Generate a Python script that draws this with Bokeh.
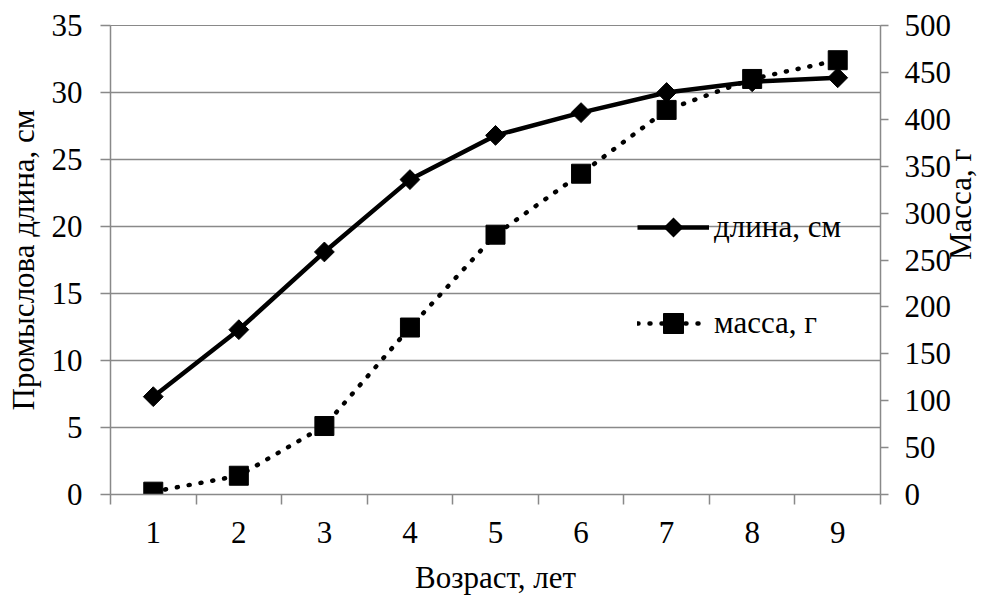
import math
from bokeh.plotting import figure
from bokeh.models import Range1d, LinearAxis, FixedTicker, Legend, LegendItem, PolyAnnotation
from bokeh.embed import file_html
from bokeh.resources import INLINE

# Age classes and growth measurements
ages = [1, 2, 3, 4, 5, 6, 7, 8, 9]
length_cm = [7.3, 12.3, 18.1, 23.5, 26.8, 28.5, 30.0, 30.8, 31.1]
mass_g = [3, 20, 73, 178, 277, 342, 410, 443, 463]

length_ticks = [0, 5, 10, 15, 20, 25, 30, 35]
mass_ticks = [0, 50, 100, 150, 200, 250, 300, 350, 400, 450, 500]

FONT = "Liberation Serif"
GRAY = "#898989"
FS = "31px"

p = figure(width=998, height=597, output_backend="svg", toolbar_location=None,
           x_range=Range1d(0.5, 9.5), y_range=Range1d(0, 35),
           min_border_left=110, min_border_right=117,
           min_border_top=25, min_border_bottom=102,
           x_axis_location=None, y_axis_location=None)
p.extra_y_ranges = {"mass": Range1d(0, 500)}
p.outline_line_color = GRAY
p.background_fill_color = "white"
p.border_fill_color = "white"

# Bottom axis: labels at class centres, tick marks on class boundaries
xaxis = LinearAxis(ticker=FixedTicker(ticks=ages, minor_ticks=[a + 0.5 for a in [0] + ages]),
                   axis_label="Возраст, лет")
xaxis.major_tick_out = 0
xaxis.major_tick_in = 0
xaxis.minor_tick_out = 10
xaxis.minor_tick_in = 0
xaxis.minor_tick_line_color = GRAY
xaxis.minor_tick_line_width = 1.5
p.add_layout(xaxis, "below")

yaxis = LinearAxis(ticker=FixedTicker(ticks=length_ticks, minor_ticks=[]),
                   axis_label="Промыслова длина, см")
yaxis.major_tick_out = 10
yaxis.major_tick_in = 0
yaxis.major_tick_line_color = GRAY
yaxis.major_tick_line_width = 1.5
p.add_layout(yaxis, "left")

# Right axis for mass; title reads bottom to top like the left one
raxis = LinearAxis(y_range_name="mass", ticker=FixedTicker(ticks=mass_ticks, minor_ticks=[]),
                   axis_label="Масса, г")
raxis.major_tick_out = 8
raxis.major_tick_in = 0
raxis.major_tick_line_color = GRAY
raxis.major_tick_line_width = 1.5
raxis.axis_label_orientation = math.pi / 2
p.add_layout(raxis, "right")

for ax in (xaxis, yaxis, raxis):
    ax.axis_line_color = GRAY
    ax.axis_line_width = 1.5
    ax.major_label_text_font = FONT
    ax.major_label_text_font_size = FS
    ax.major_label_text_color = "black"
    ax.axis_label_text_font = FONT
    ax.axis_label_text_font_size = FS
    ax.axis_label_text_font_style = "normal"
    ax.axis_label_text_color = "black"

xaxis.major_label_standoff = 17
xaxis.axis_label_standoff = 14
yaxis.major_label_standoff = 18
yaxis.axis_label_standoff = 8
raxis.major_label_standoff = 16
raxis.axis_label_standoff = 6

p.xgrid.visible = False
p.ygrid.ticker = FixedTicker(ticks=length_ticks, minor_ticks=[])
p.ygrid.grid_line_color = GRAY
p.ygrid.grid_line_width = 1.5

# Length series (left axis), diamonds drawn as rotated squares
l_line = p.line(ages, length_cm, line_color="black", line_width=4.5)
l_pts = p.scatter(ages, length_cm, marker="square", angle=math.pi / 4, size=14, color="black")

# Mass series (right axis)
m_line = p.line(ages, mass_g, y_range_name="mass", line_color="black", line_width=4.5,
                line_dash="1 11", line_cap="round")
m_pts = p.scatter(ages, mass_g, y_range_name="mass", marker="square", size=19, color="black")

legend = Legend(items=[LegendItem(label="длина, см", renderers=[l_line]),
                       LegendItem(label="масса, г", renderers=[m_line, m_pts])],
                location=(527, 146), orientation="vertical")
legend.label_text_font = FONT
legend.label_text_font_size = FS
legend.label_text_color = "black"
legend.glyph_width = 72
legend.glyph_height = 50
legend.label_standoff = 5
legend.spacing = 46
legend.padding = 0
legend.margin = 0
legend.border_line_color = None
legend.background_fill_alpha = 0
p.add_layout(legend)

# Diamond symbol on the first legend entry (legend glyphs are drawn unrotated)
cx, cy, r = 563, 267, 10
p.add_layout(PolyAnnotation(xs=[cx, cx + r, cx, cx - r], ys=[cy + r, cy, cy - r, cy],
                            xs_units="screen", ys_units="screen",
                            fill_color="black", fill_alpha=1, line_color=None))

open("out.html", "w").write(file_html(p, INLINE))
